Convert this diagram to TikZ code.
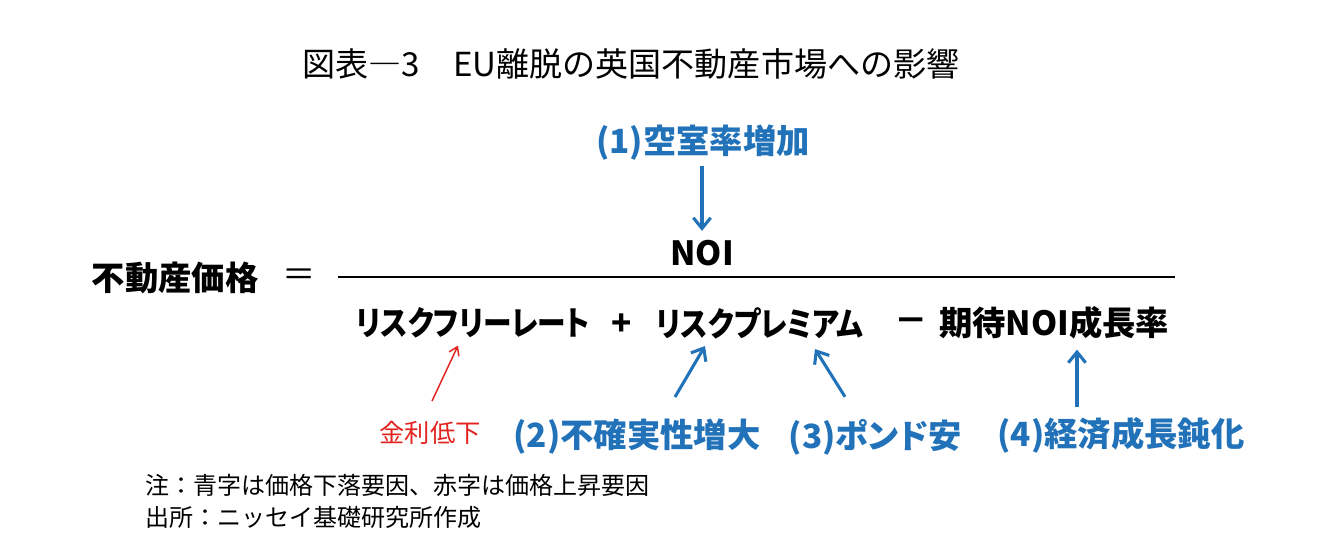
\documentclass[tikz,border=0pt]{standalone}
\usepackage{fontspec}
\usetikzlibrary{calc,positioning,arrows.meta}
\newfontfamily\jpfont[RawFeature=+palt]{Noto Sans CJK JP}
\newfontfamily\jpwide{Noto Sans CJK JP}
\definecolor{FactorBlue}{HTML}{2272B9}
\definecolor{FactorRed}{HTML}{E2231F}
\newcommand{\kana}[1]{\scalebox{0.86}[1]{#1}}
\tikzset{
  termtext/.style={inner sep=0pt, font=\jpfont\bfseries\fontsize{25}{28}\selectfont},
  bluelabel/.style={inner sep=0pt, text=FactorBlue, font=\jpfont\bfseries\fontsize{25}{28}\selectfont},
  redlabel/.style={inner sep=0pt, text=FactorRed, font=\jpfont\fontsize{19}{22}\selectfont},
  notetext/.style={inner sep=0pt, anchor=west, font=\jpwide\fontsize{18}{20}\selectfont},
  bluearrow/.style={draw=FactorBlue, line width=2.3pt, -{Straight Barb[length=8pt,width=13pt]}},
  redarrow/.style={draw=FactorRed, line width=1.1pt, -{Straight Barb[length=6pt,width=8pt]}}
}

\begin{document}
\begin{tikzpicture}[x=0.75pt, y=-0.75pt]
  \useasboundingbox[fill=white] (0,0) rectangle (1340,550);
  \node[inner sep=0pt, font=\jpwide\fontsize{24.8}{28}\selectfont] (title) at (631,64)
    {図表―3　EU離脱の英国不動産市場への影響};

  \node[bluelabel] (vacancy) at (703,143) {(1)空室率増加};
  \node[termtext] (noi) at (702,253) {NOI};
  \node[termtext] (price) at (175,278) {不動産価格};
  \node[inner sep=0pt, font=\jpwide\fontsize{25}{28}\selectfont] (equals) at (299,278) {＝};
  \draw[line width=1.5pt] (338,277) -- (1175,277);

  \node[termtext] (riskfree) at (473,323) {\kana{リスクフリーレート}};
  \node[termtext] (plus) at (622,325) {+};
  \node[termtext] (premium) at (760,323) {\kana{リスクプレミアム}};
  \node[termtext] (minus) at (911,325) {－};
  \node[termtext] (growth) at (1054,323) {期待NOI成長率};

  \node[redlabel] (rate) at (430,433) {金利低下};
  \node[bluelabel] (uncert) at (637,437) {(2)不確実性増大};
  \node[bluelabel] (pound) at (875,437) {(3)ポンド安};
  \node[bluelabel] (economy) at (1121,435) {(4)経済成長鈍化};

  \draw[bluearrow] ($(vacancy.south)+(-1,5)$) -- ($(noi.north)+(0,-9)$);
  \draw[redarrow] ($(rate.north)+(2,-20)$) -- ($(riskfree.south)+(-15,7)$);
  \draw[bluearrow] ($(uncert.north)+(38,-22)$) -- ($(premium.south)+(-55,7)$);
  \draw[bluearrow] ($(pound.north)+(-30,-22)$) -- ($(premium.south)+(55,10)$);
  \draw[bluearrow] ($(economy.north)+(-44,-10)$) -- ($(growth.south)+(23,10)$);

  \node[notetext] (note) at (145,485) {注：青字は価格下落要因、赤字は価格上昇要因};
  \node[notetext] (source) at (145,517) {出所：ニッセイ基礎研究所作成};
\end{tikzpicture}
\end{document}
